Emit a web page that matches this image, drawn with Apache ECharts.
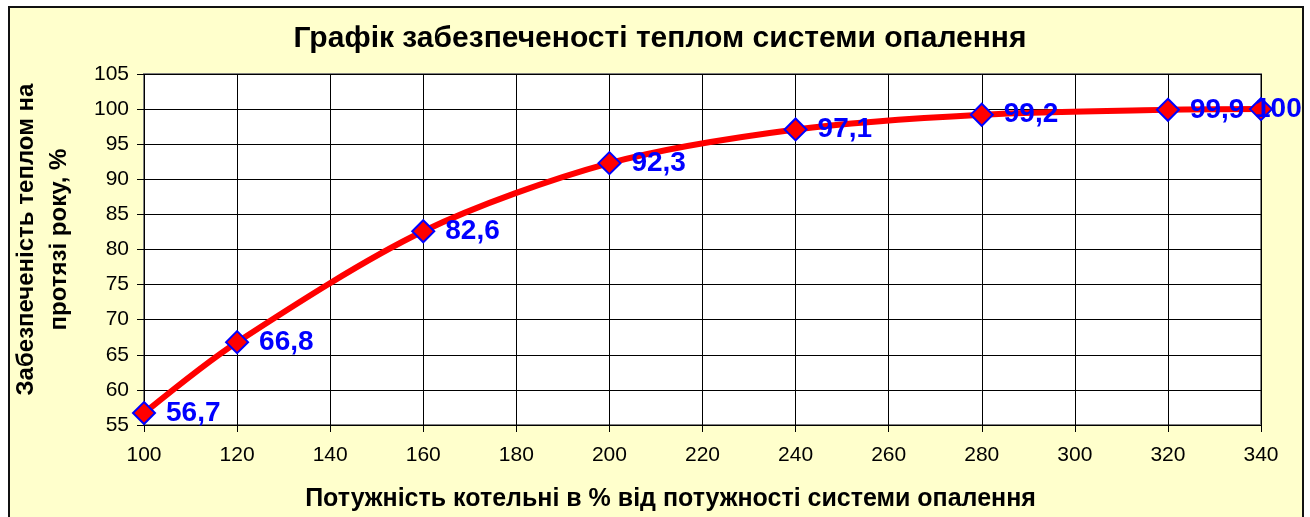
<!DOCTYPE html>
<html>
<head>
<meta charset="utf-8">
<script src="https://cdn.jsdelivr.net/npm/echarts@6/dist/echarts.min.js"></script>
<style>
  html, body { margin: 0; padding: 0; background: #fff; }
  #wrap { position: absolute; left: 8px; top: 6px; width: 1296px; height: 520px; border: 2px solid #111; background: #ffffcc; box-sizing: border-box; }
  #chart { width: 1310px; height: 517px; position: absolute; left: 0; top: 0; }
</style>
</head>
<body>
<div id="wrap"></div>
<div id="chart"></div>
<script>
// дані графіка
var power = [100, 120, 160, 200, 240, 280, 320, 340]
var supply = [56.7, 66.8, 82.6, 92.3, 97.1, 99.2, 99.9, 100]
var labels = ['56,7', '66,8', '82,6', '92,3', '97,1', '99,2', '99,9', '100']

var chart = echarts.init(document.getElementById('chart'))
var font = 'Liberation Sans, Arial, sans-serif'

// останній підпис Excel зсунув ліворуч, щоб не вийти за межі
var seriesData = power.map(function (p, i) {
  var item = { value: [p, supply[i]] }
  if (i === power.length - 1) {
    item.label = { offset: [-28, 0] }
  }
  return item
})

chart.setOption({
  animation: false,
  title: {
    text: 'Графік забезпеченості теплом системи опалення',
    left: 655,
    textAlign: 'center',
    top: 19,
    textStyle: { fontFamily: font, fontSize: 30, fontWeight: 'bold', color: '#000' }
  },
  grid: {
    left: 144,
    right: 49,
    top: 74,
    bottom: 91,
    show: true,
    backgroundColor: '#fff',
    borderColor: '#808080',
    borderWidth: 2
  },
  xAxis: {
    type: 'value',
    min: 100,
    max: 340,
    interval: 20,
    name: 'Потужність котельні в % від потужності системи опалення',
    nameLocation: 'middle',
    nameGap: 62,
    nameTextStyle: { fontFamily: font, fontSize: 25, fontWeight: 'bold', color: '#000', padding: [0, 64, 0, 0] },
    axisLine: { show: false },
    axisTick: { show: true, length: 7, lineStyle: { color: '#000' } },
    axisLabel: { fontFamily: font, fontSize: 21, color: '#000', margin: 20 },
    splitLine: { show: true, lineStyle: { color: '#000', width: 1 } }
  },
  yAxis: {
    type: 'value',
    min: 55,
    max: 105,
    interval: 5,
    name: 'Забезпеченість теплом на\nпротязі року, %',
    nameLocation: 'middle',
    nameGap: 68,
    nameTextStyle: { fontFamily: font, fontSize: 24, fontWeight: 'bold', color: '#000', lineHeight: 33, padding: [0, 0, 0, 20] },
    axisLine: { show: false },
    axisTick: { show: true, length: 7, lineStyle: { color: '#000' } },
    axisLabel: { fontFamily: font, fontSize: 21, color: '#000', margin: 15 },
    splitLine: { show: true, lineStyle: { color: '#000', width: 1 } }
  },
  series: [{
    type: 'line',
    smooth: 0.3,
    data: seriesData,
    lineStyle: { color: '#ff0000', width: 6 },
    symbol: 'diamond',
    symbolSize: 22,
    itemStyle: { color: '#ff0000', borderColor: '#0000ff', borderWidth: 2 },
    label: {
      show: true,
      position: 'right',
      distance: 10,
      fontFamily: font,
      fontSize: 28,
      fontWeight: 'bold',
      color: '#0000ff',
      formatter: function (p) { return labels[p.dataIndex] }
    },
    z: 3
  }]
})
</script>
</body>
</html>
